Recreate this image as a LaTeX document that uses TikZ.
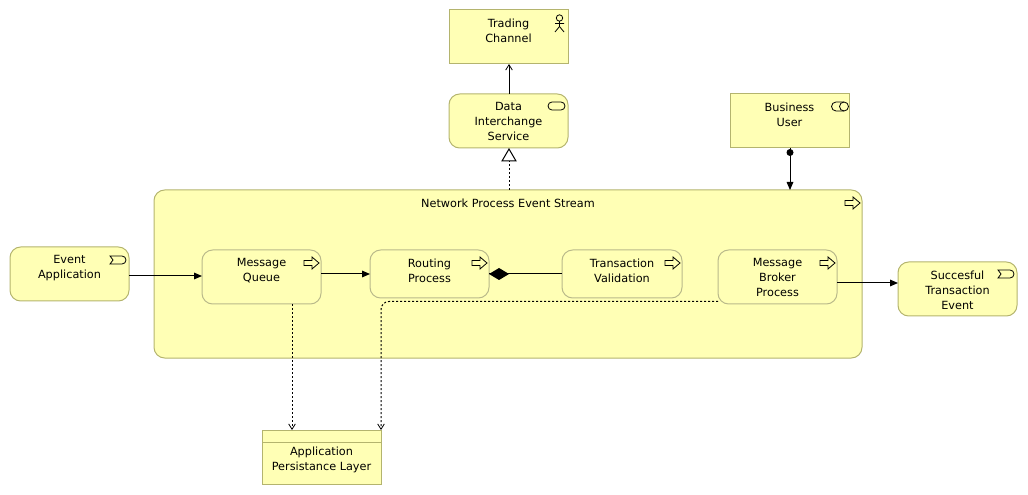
\documentclass[tikz,border=0pt]{standalone}
\usepackage{fontspec}
\setmainfont{DejaVu Sans}
\usetikzlibrary{arrows.meta}
\definecolor{amber}{HTML}{FFFFB5}
\definecolor{edge}{HTML}{B4B46E}
\definecolor{edgein}{HTML}{B9B98A}
\tikzset{
  x=0.75pt,y=-0.75pt,
  elem/.style={draw=edge,fill=amber,line width=0.75pt,inner sep=0pt,outer sep=0pt},
  rect/.style={elem},
  round/.style={elem,rounded corners=8pt},
  inner/.style={elem,draw=edgein,rounded corners=8pt},
  conn/.style={black,line width=0.75pt},
  dot/.style={black,line width=0.75pt,dash pattern=on 1.5pt off 1.5pt},
  openhead/.style={-{Straight Barb[length=4pt,width=5pt,line width=0.6pt]}},
  solidhead/.style={-{Triangle[length=6pt,width=5pt]}},
  icon/.style={black,line width=0.6pt,fill=none},
}
\newlength{\bw}\newlength{\bh}
% name, style, x0, y0, w, h, text
\newcommand{\elemnode}[7]{%
  \setlength{\bw}{#5pt}\setlength{\bw}{0.75\bw}%
  \setlength{\bh}{#6pt}\setlength{\bh}{0.75\bh}%
  \node[#2,minimum width=\bw,minimum height=\bh,anchor=north west] (#1) at (#3,#4)
    {\parbox[c][\bh][t]{\bw}{\fontsize{8.45pt}{11.25pt}\selectfont\centering\vspace{6.5pt}#7\par}};}
\newcommand{\procicon}[1]{%
  \draw[icon,shift={(#1)}] (-17,-2.5) -- (-9,-2.5) -- (-9,-6) -- (-2,0) -- (-9,6) -- (-9,2.5) -- (-17,2.5) -- cycle;}
\newcommand{\eventicon}[1]{%
  \draw[icon,shift={(#1)}] (-19,-4) -- (-7,-4) arc (-90:90:4) -- (-19,4) -- (-16,0) -- cycle;}
\begin{document}
\begin{tikzpicture}
\useasboundingbox (0,0) rectangle (1028,495);
% parent first
\elemnode{npes}{round}{154}{190}{708}{168}{Network Process Event Stream}
\elemnode{tc}{rect}{449}{10}{119}{54}{Trading\\Channel}
\elemnode{dis}{round}{449}{94}{119}{54}{Data\\Interchange\\Service}
\elemnode{bu}{rect}{730}{94}{119}{54}{Business\\User}
\elemnode{ea}{round}{10}{247}{119}{54}{Event\\Application}
\elemnode{mq}{inner}{202}{250}{119}{54}{Message\\Queue}
\elemnode{rp}{inner}{370}{250}{119}{48}{Routing\\Process}
\elemnode{tv}{inner}{562}{250}{120}{48}{Transaction\\Validation}
\elemnode{mb}{inner}{718}{250}{119}{54}{Message\\Broker\\Process}
\elemnode{ste}{round}{898}{262}{119}{54}{Succesful\\Transaction\\Event}
\elemnode{apl}{rect}{262}{430}{119}{54}{\vspace{6.3pt}Application\\Persistance Layer}
\draw[draw=edge,line width=0.75pt] (262,442) -- (381,442);
% icons
\draw[icon] (559.5,18) circle (3.2);
\draw[icon] (559.5,21.2) -- (559.5,26.5) (555,23.5) -- (564,23.5) (559.5,26.5) -- (555,32) (559.5,26.5) -- (564,32);
\draw[icon] (552,102) -- (561,102) arc (-90:90:4) -- (552,110) arc (90:270:4);
\draw[icon] (836,102) -- (844,102) arc (-90:90:4.5) -- (836,111) arc (90:270:4.5);
\draw[icon] (844,102) arc (270:90:4.5);
\procicon{862,203}
\procicon{321,263}
\procicon{489,263}
\procicon{682,263}
\procicon{837,263}
\eventicon{129,260}
\eventicon{1017,274}
% connectors
\coordinate (xa) at (509,0);
\coordinate (xb) at (790,0);
\coordinate (xc) at (292,0);
\coordinate (xd) at (381,0);
\coordinate (ya) at (0,276);
\coordinate (yb) at (0,274);
\coordinate (yc) at (0,283);
\coordinate (yd) at (0,301.5);
\draw[conn,openhead] (xa |- dis.north) -- (xa |- tc.south);
\draw[dot] (xa |- npes.north) -- ([yshift=-9pt]xa |- dis.south);
\draw[conn,fill=white,line join=miter] (xa |- dis.south) ++(0,1) -- ++(7,12) -- ++(-14,0) -- cycle;
\draw[conn,solidhead] (xb |- bu.south) -- (xb |- npes.north);
\fill[black] (xb |- bu.south) ++(0,4.5) circle (3.5);
\draw[conn,solidhead] (ea.east |- ya) -- (mq.west |- ya);
\draw[conn,solidhead] (mq.east |- yb) -- (rp.west |- yb);
\draw[conn] (tv.west |- yb) -- (rp.east |- yb);
\fill[black] (rp.east |- yb) -- ++(10,-6) -- ++(10,6) -- ++(-10,6) -- cycle;
\draw[conn,solidhead] (mb.east |- yc) -- (ste.west |- yc);
\draw[dot,openhead] (xc |- mq.south) -- (xc |- apl.north);
\draw[dot,openhead,rounded corners=6pt] (mb.west |- yd) -- (xd |- yd) -- (xd |- apl.north);
\end{tikzpicture}
\end{document}
